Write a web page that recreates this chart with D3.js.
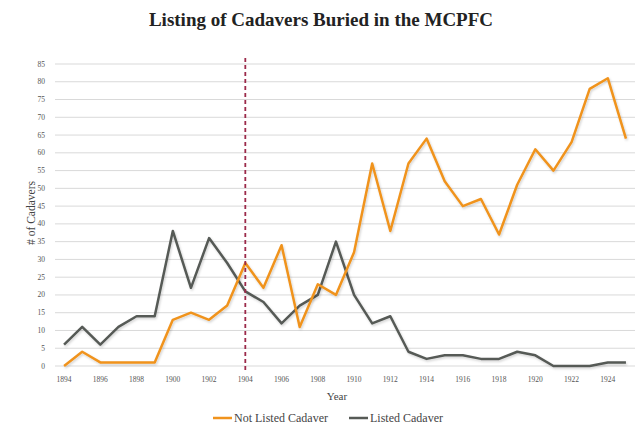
<!DOCTYPE html>
<html>
<head>
<meta charset="utf-8">
<script src="https://cdn.jsdelivr.net/npm/d3@7"></script>
<style>
  body { margin: 0; background: #fff; }
  text { font-family: "Liberation Serif", "DejaVu Serif", serif; }
</style>
</head>
<body>
<svg></svg>
<script>
// Chart data
const years = d3.range(1894, 1926);
const notListed = [0, 4, 1, 1, 1, 1, 13, 15, 13, 17, 29, 22, 34, 11, 23, 20,
                   32, 57, 38, 57, 64, 52, 45, 47, 37, 51, 61, 55, 63, 78, 81, 64];
const listed = [6, 11, 6, 11, 14, 14, 38, 22, 36, 29, 21, 18, 12, 17, 20, 35,
                20, 12, 14, 4, 2, 3, 3, 2, 2, 4, 3, 0, 0, 0, 1, 1];
const yTicks = d3.range(0, 90, 5);
const xTickYears = d3.range(1894, 1926, 2);
const markerYear = 1904;
const seriesNames = ['Not Listed Cadaver', 'Listed Cadaver'];

const width = 642, height = 438;
const svg = d3.select('svg')
    .attr('width', width)
    .attr('height', height);

const margin = { left: 55, right: 7, top: 64, bottom: 72 };

const x = d3.scaleBand()
    .domain(years)
    .range([margin.left, width - margin.right]);

const y = d3.scaleLinear()
    .domain([0, 85])
    .range([height - margin.bottom, margin.top]);

const cx = d => x(d) + x.bandwidth() / 2;

// soft shadow under the lines
const defs = svg.append('defs');
const shadow = defs.append('filter').attr('id', 'shadow')
    .attr('x', '-5%').attr('y', '-5%').attr('width', '110%').attr('height', '110%');
shadow.append('feDropShadow')
    .attr('dx', 1).attr('dy', 1.5).attr('stdDeviation', 1)
    .attr('flood-color', '#000').attr('flood-opacity', 0.18);

// Title
svg.append('text')
    .attr('x', 321)
    .attr('y', 26)
    .attr('text-anchor', 'middle')
    .style('font-size', '19px')
    .style('font-weight', 'bold')
    .style('fill', '#222')
    .text('Listing of Cadavers Buried in the MCPFC');

// Gridlines
svg.append('g')
    .selectAll('line')
    .data(yTicks)
    .enter().append('line')
    .attr('x1', margin.left)
    .attr('x2', width - margin.right)
    .attr('y1', d => y(d))
    .attr('y2', d => y(d))
    .attr('stroke', '#d9d9d9')
    .attr('stroke-width', 1);

// Y axis labels
svg.append('g')
    .selectAll('text')
    .data(yTicks)
    .enter().append('text')
    .attr('x', 45)
    .attr('y', d => y(d) + 2.5)
    .attr('text-anchor', 'end')
    .style('font-size', '7.5px')
    .style('fill', '#555')
    .text(d => d);

// X axis labels
svg.append('g')
    .selectAll('text')
    .data(xTickYears)
    .enter().append('text')
    .attr('x', d => cx(d))
    .attr('y', 382)
    .attr('text-anchor', 'middle')
    .style('font-size', '7.5px')
    .style('fill', '#555')
    .text(d => d);

// Axis titles
svg.append('text')
    .attr('x', cx(1909) + 1)
    .attr('y', 400)
    .attr('text-anchor', 'middle')
    .style('font-size', '11px')
    .style('fill', '#444')
    .text('Year');

svg.append('text')
    .attr('transform', 'translate(35, 213) rotate(-90)')
    .attr('text-anchor', 'middle')
    .style('font-size', '11.5px')
    .style('fill', '#444')
    .text('# of Cadavers');

// Lines
const line = d3.line()
    .x((d, i) => cx(years[i]))
    .y(d => y(d));

svg.append('path')
    .datum(listed)
    .attr('d', line)
    .attr('fill', 'none')
    .attr('stroke', '#565a56')
    .attr('stroke-width', 2.5)
    .attr('stroke-linejoin', 'round')
    .attr('filter', 'url(#shadow)');

svg.append('path')
    .datum(notListed)
    .attr('d', line)
    .attr('fill', 'none')
    .attr('stroke', '#f0931d')
    .attr('stroke-width', 2.5)
    .attr('stroke-linejoin', 'round')
    .attr('filter', 'url(#shadow)');

// Dashed marker at 1904
svg.append('line')
    .attr('x1', cx(markerYear))
    .attr('x2', cx(markerYear))
    .attr('y1', 58)
    .attr('y2', 371)
    .attr('stroke', '#9b2a4a')
    .attr('stroke-width', 1.8)
    .attr('stroke-dasharray', '4,3');

// Legend
const legend = svg.append('g');
const legendItems = [
    { name: seriesNames[0], color: '#f0931d', x: 213 },
    { name: seriesNames[1], color: '#565a56', x: 349 }
];
legendItems.forEach(item => {
    legend.append('line')
        .attr('x1', item.x)
        .attr('x2', item.x + 19)
        .attr('y1', 418)
        .attr('y2', 418)
        .attr('stroke', item.color)
        .attr('stroke-width', 2.5);
    legend.append('text')
        .attr('x', item.x + 21)
        .attr('y', 422)
        .style('font-size', '12px')
        .style('fill', '#444')
        .text(item.name);
});
</script>
</body>
</html>
